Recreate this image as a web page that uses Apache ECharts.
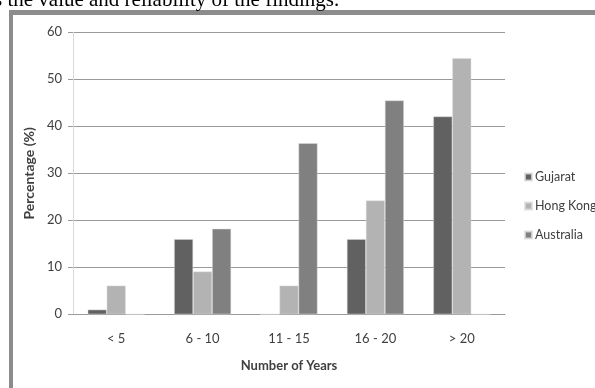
<!DOCTYPE html>
<html><head><meta charset="utf-8">
<script src="https://cdn.jsdelivr.net/npm/echarts@6/dist/echarts.min.js"></script>
<style>html,body{margin:0;padding:0;background:#fff}#c{width:595px;height:388px}</style>
</head><body><div id="c"></div>
<script>
const categories = ['< 5', '6 - 10', '11 - 15', '16 - 20', '> 20'];
const gujarat = [1, 16, 0, 16, 42.1];
const hongKong = [6.1, 9.1, 6.1, 24.2, 54.5];
const australia = [0, 18.2, 36.4, 45.5, 0];
const yTicks = [0, 10, 20, 30, 40, 50, 60];
const seriesNames = ['Gujarat', 'Hong Kong', 'Australia'];
const colors = ['#616161', '#b3b3b3', '#808080'];

const font = "Lato, 'Open Sans', sans-serif";
const chart = echarts.init(document.getElementById('c'), null, {renderer: 'canvas'});
const mk = (name, data, i) => ({
  name, type: 'bar', data, barGap: '0%', barCategoryGap: '34%',
  itemStyle: {color: colors[i], borderColor: 'rgba(220,220,220,0.8)', borderWidth: 0.6},
  emphasis: {disabled: true}
});
chart.setOption({
  animation: false,
  color: colors,
  textStyle: {fontFamily: font},
  grid: {left: 73, right: 90, top: 32.3, bottom: 73.7, containLabel: false},
  legend: {
    orient: 'vertical', left: 524, top: 170, padding: 0, itemWidth: 7, itemHeight: 7, itemGap: 15,
    icon: 'rect', data: seriesNames,
    textStyle: {fontFamily: font, fontSize: 12.5, color: '#404040', lineHeight: 14, padding: [0,0,0,-2]}
  },
  xAxis: {
    type: 'category', data: categories,
    name: 'Number of Years', nameLocation: 'middle', nameGap: 45,
    nameTextStyle: {fontFamily: font, fontWeight: 'bold', fontSize: 13, color: '#404040'},
    axisLine: {lineStyle: {color: '#9a9a9a', width: 1}},
    axisTick: {show: false},
    axisLabel: {fontFamily: font, fontSize: 13, color: '#404040', margin: 18}
  },
  yAxis: {
    type: 'value', min: yTicks[0], max: yTicks[yTicks.length-1], interval: 10,
    name: 'Percentage (%)', nameLocation: 'middle', nameGap: 29,
    nameTextStyle: {fontFamily: font, fontWeight: 'bold', fontSize: 14, color: '#404040'},
    axisLine: {show: true, lineStyle: {color: '#d9d9d9'}},
    axisTick: {show: true, length: 5, lineStyle: {color: '#9a9a9a'}},
    splitLine: {lineStyle: {color: '#9a9a9a', width: 1}},
    axisLabel: {fontFamily: font, fontSize: 13, color: '#404040', margin: 11}
  },
  graphic: [
    {type: 'rect', shape: {x: 9, y: 10, width: 586, height: 5}, style: {fill: '#8c8c8c'}, z: 10},
    {type: 'rect', shape: {x: 9, y: 10, width: 4, height: 378}, style: {fill: '#8c8c8c'}, z: 10},
    {type: 'text', x: -6, y: 11, z: 10, style: {text: 's the value and reliability of the findings.', fontFamily: "'Liberation Serif', serif", fontSize: 21, fill: '#000', textVerticalAlign: 'bottom', verticalAlign: 'bottom'}}
  ],
  series: [mk(seriesNames[0], gujarat, 0), mk(seriesNames[1], hongKong, 1), mk(seriesNames[2], australia, 2)]
});
</script></body></html>
